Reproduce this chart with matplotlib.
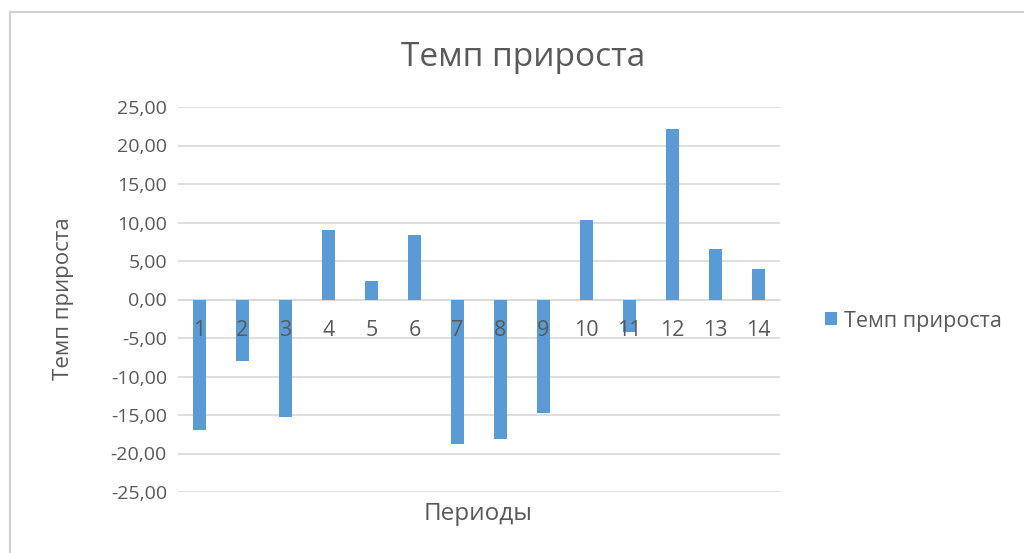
import matplotlib
matplotlib.use("Agg")
import matplotlib.pyplot as plt
from matplotlib.patches import Rectangle

periods = ["1", "2", "3", "4", "5", "6", "7", "8", "9", "10", "11", "12", "13", "14"]
growth = [-16.9, -8.0, -15.2, 9.0, 2.4, 8.4, -18.8, -18.1, -14.7, 10.3, -4.2, 22.2, 6.5, 4.0]
yticks = [25, 20, 15, 10, 5, 0, -5, -10, -15, -20, -25]
title = "Темп прироста"
series_name = "Темп прироста"
xlabel = "Периоды"
ylabel = "Темп прироста"

plt.rcParams['font.family'] = ['Open Sans', 'DejaVu Sans']
txt = '#595959'
bar_color = '#5b9bd5'
grid_color = '#d9d9d9'

W, H = 1024, 553
fig = plt.figure(figsize=(W / 100, H / 100), dpi=100)

# chart area border
fig.patches.append(Rectangle((10 / W, -0.05), 1.2, 1 - 12 / H + 0.05, transform=fig.transFigure,
                             fill=False, edgecolor='#d0d0d0', linewidth=1.5, zorder=0))

ax = fig.add_axes([178 / W, 1 - 492 / H, (780 - 178) / W, (492 - 107) / H])
x = list(range(len(periods)))
ax.bar(x, growth, width=0.3, color=bar_color, label=series_name, zorder=3)

ax.set_xlim(-0.5, len(periods) - 0.5)
ax.set_ylim(-25, 25)
ax.set_yticks(yticks)
ax.set_yticklabels([f"{v:.2f}".replace('.', ',') for v in yticks])
ax.yaxis.grid(True, color=grid_color, linewidth=1.2, zorder=0)
ax.set_axisbelow(True)

for s in ['top', 'right', 'left']:
    ax.spines[s].set_visible(False)
ax.spines['bottom'].set_position(('data', 0))
ax.spines['bottom'].set_color(grid_color)
ax.spines['bottom'].set_linewidth(1.2)

ax.set_xticks(x)
ax.set_xticklabels(periods)
ax.tick_params(axis='x', length=0, pad=15, labelsize=15.5, colors=txt)
ax.tick_params(axis='y', length=0, pad=8, labelsize=14, colors=txt)
ax.xaxis.set_zorder(5)

fig.text(523 / W, 1 - 57 / H, title, ha='center', va='center', fontsize=24, color=txt)
fig.text(478 / W, 1 - 514 / H, xlabel, ha='center', va='center', fontsize=17.5, color=txt)
fig.text(63 / W, 1 - 299 / H, ylabel, ha='center', va='center', rotation=90, fontsize=16, color=txt)

leg = fig.legend(handles=[ax.patches[0]], labels=[series_name], loc='center left',
                 bbox_to_anchor=(806 / W, 1 - 321 / H), frameon=False, fontsize=15.5,
                 handlelength=0.55, handleheight=0.55, handletextpad=0.3, labelcolor=txt)

fig.savefig("out.png", dpi=100)
